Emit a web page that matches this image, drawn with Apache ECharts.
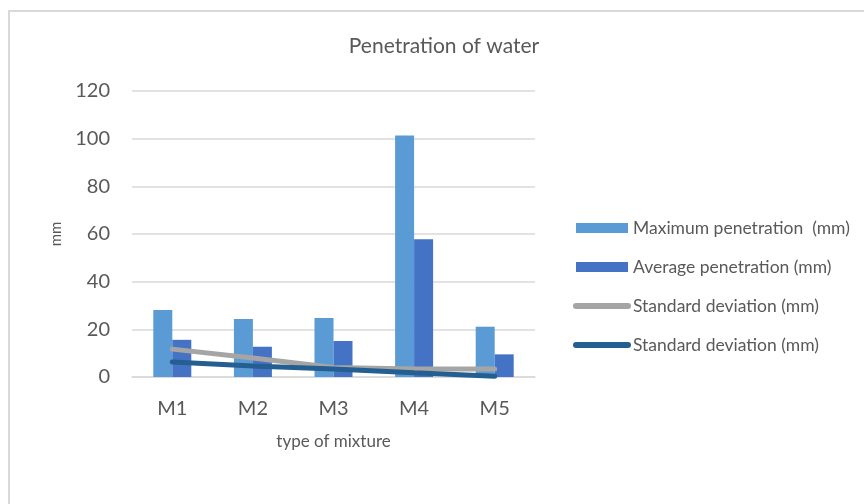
<!DOCTYPE html>
<html>
<head>
<meta charset="utf-8">
<script src="https://cdn.jsdelivr.net/npm/echarts@6/dist/echarts.min.js"></script>
<style>html,body{margin:0;padding:0;background:#fff;}#c{width:864px;height:504px;}</style>
</head>
<body>
<div id="c"></div>
<script>
const categories = ['M1', 'M2', 'M3', 'M4', 'M5'];
const maxPenetration = [28.1, 24.3, 24.8, 101.3, 21.1];
const avgPenetration = [15.6, 12.7, 15.1, 57.8, 9.5];
const stdDev1 = [11.7, 8.0, 4.0, 3.4, 3.4];
const stdDev2 = [6.3, 4.6, 3.4, 1.8, 0.3];
const yTicks = [0, 20, 40, 60, 80, 100, 120];

const font = 'Lato, "Open Sans", sans-serif';
const txt = '#595959';
const barIcon = 'path://M0,0 M3,2 L55,2 L55,12 L3,12 Z M58,14';
const lineIcon = 'path://M0,0 M3,4 L55,4 A3,3 0 0 1 55,10 L3,10 A3,3 0 0 1 3,4 Z M58,14';
const chart = echarts.init(document.getElementById('c'), null, {renderer: 'canvas'});
chart.setOption({
  backgroundColor: '#fff',
  animation: false,
  textStyle: {fontFamily: font},
  graphic: [{
    type: 'rect', shape: {x: 9, y: 11, width: 900, height: 600},
    style: {fill: 'none', stroke: '#d9d9d9', lineWidth: 2}, silent: true
  }],
  title: {
    text: 'Penetration of water', left: 439, top: 31, textAlign: 'center',
    textStyle: {fontFamily: font, fontSize: 21, fontWeight: 'normal', color: txt}
  },
  legend: {
    orient: 'vertical', left: 568, top: 214, itemGap: 21, itemWidth: 58, itemHeight: 14,
    textStyle: {fontFamily: font, fontSize: 17.5, color: txt, padding: [0, 0, 0, -3]},
    data: [
      {name: 'Maximum penetration  (mm)', icon: barIcon},
      {name: 'Average penetration (mm)', icon: barIcon},
      {name: 'Standard deviation (mm)', icon: lineIcon},
      {name: 'Standard deviation (mm) ', icon: lineIcon}
    ]
  },
  grid: {left: 132, right: 329, top: 91, bottom: 127},
  xAxis: {
    type: 'category', data: categories,
    name: 'type of mixture', nameLocation: 'middle', nameGap: 56,
    nameTextStyle: {fontFamily: font, fontSize: 17, color: txt},
    axisLine: {lineStyle: {color: '#d9d9d9', width: 1.5}},
    axisTick: {show: false},
    axisLabel: {fontFamily: font, fontSize: 20, color: txt, margin: 22}
  },
  yAxis: {
    type: 'value', min: yTicks[0], max: yTicks[yTicks.length - 1], interval: 20,
    name: 'mm', nameLocation: 'middle', nameGap: 68,
    nameTextStyle: {fontFamily: font, fontSize: 15, color: txt},
    axisLine: {show: false}, axisTick: {show: false},
    axisLabel: {fontFamily: font, fontSize: 20, color: txt, margin: 22},
    splitLine: {lineStyle: {color: '#d9d9d9', width: 1.5}}
  },
  series: [
    {name: 'Maximum penetration  (mm)', type: 'bar', data: maxPenetration, barWidth: 19, barGap: '0%',
     itemStyle: {color: '#5B9BD5'}},
    {name: 'Average penetration (mm)', type: 'bar', data: avgPenetration, barWidth: 19,
     itemStyle: {color: '#4472C4'}},
    {name: 'Standard deviation (mm)', type: 'line', data: stdDev1, symbol: 'none',
     itemStyle: {color: '#A5A5A5'}, lineStyle: {color: '#A5A5A5', width: 5, cap: 'round'}},
    {name: 'Standard deviation (mm) ', type: 'line', data: stdDev2, symbol: 'none',
     itemStyle: {color: '#255E91'}, lineStyle: {color: '#255E91', width: 5, cap: 'round'}}
  ]
});
</script>
</body>
</html>
